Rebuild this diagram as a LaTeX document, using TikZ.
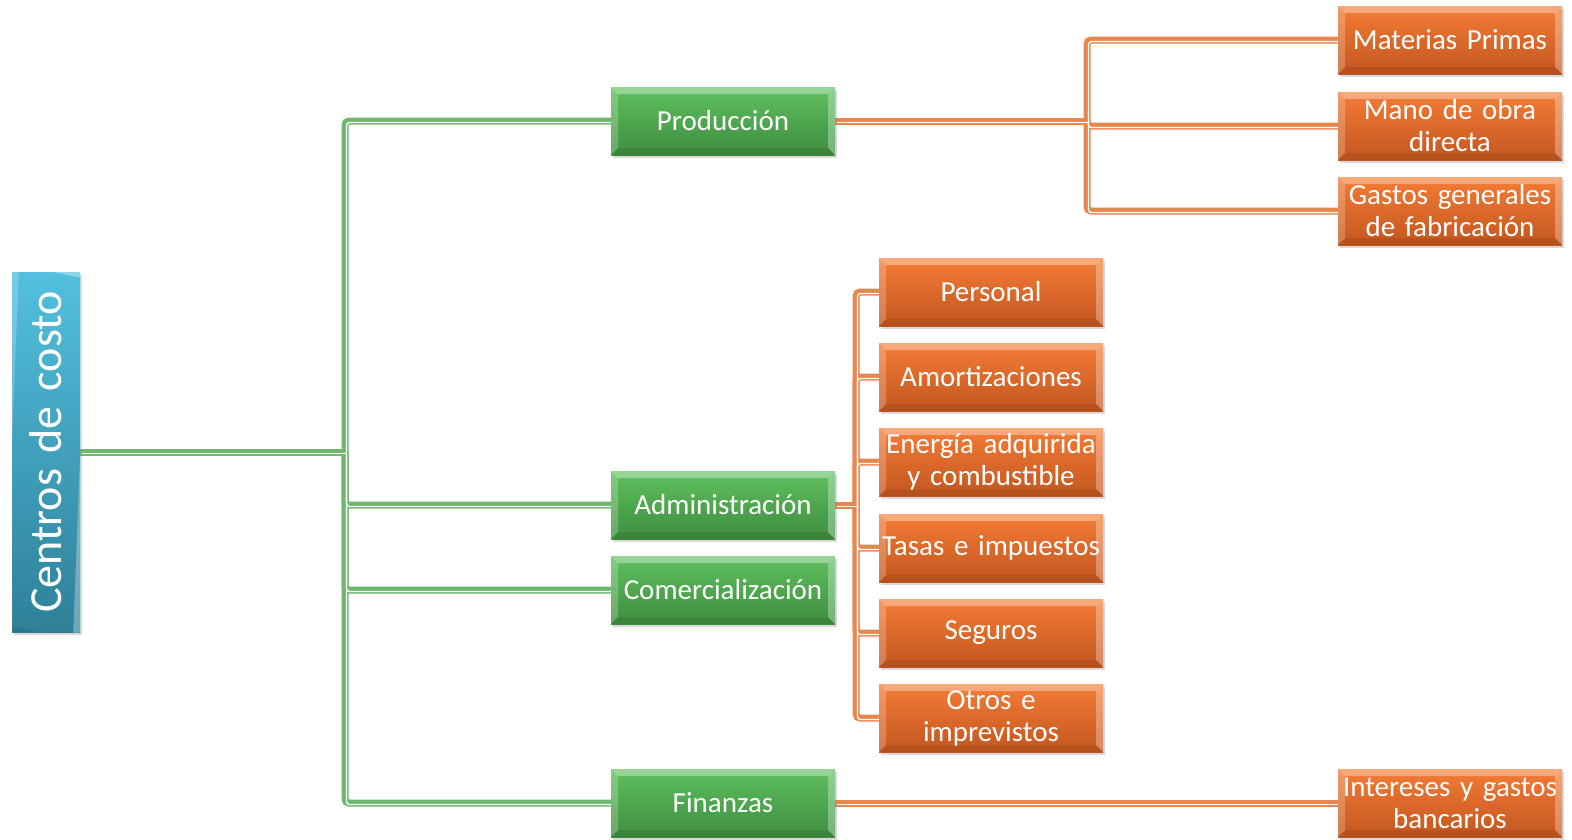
\documentclass[tikz,border=0pt]{standalone}
\usepackage{fontspec}
\setmainfont[WordSpace=0.75]{Carlito}
\usetikzlibrary{shadows,backgrounds}
\definecolor{bluetop}{HTML}{52C0DE}
\definecolor{bluebot}{HTML}{2F8099}
\definecolor{greentop}{HTML}{5EC05E}
\definecolor{greenbot}{HTML}{3F8E3F}
\definecolor{orangetop}{HTML}{F47C36}
\definecolor{orangebot}{HTML}{C3561F}
\definecolor{gconn}{HTML}{6DB86D}
\definecolor{oconn}{HTML}{E8864F}
\tikzset{
  bevel/.style={path picture={
    \fill[white,opacity=0.35] (path picture bounding box.north west) -- (path picture bounding box.north east) -- ([xshift=-7pt,yshift=-7pt]path picture bounding box.north east) -- ([xshift=7pt,yshift=-7pt]path picture bounding box.north west) -- cycle;
    \fill[white,opacity=0.22] (path picture bounding box.north west) -- ([xshift=7pt,yshift=-7pt]path picture bounding box.north west) -- ([xshift=7pt,yshift=7pt]path picture bounding box.south west) -- (path picture bounding box.south west) -- cycle;
    \fill[white,opacity=0.3] (path picture bounding box.north east) -- ([xshift=-7pt,yshift=-7pt]path picture bounding box.north east) -- ([xshift=-7pt,yshift=7pt]path picture bounding box.south east) -- (path picture bounding box.south east) -- cycle;
    \fill[black,opacity=0.08] (path picture bounding box.south west) -- ([xshift=7pt,yshift=7pt]path picture bounding box.south west) -- ([xshift=-7pt,yshift=7pt]path picture bounding box.south east) -- (path picture bounding box.south east) -- cycle;
  }},
  box/.style={minimum width=224pt, minimum height=68pt, inner sep=0pt, text width=222pt, align=center, text=white, font=\fontsize{29}{32}\selectfont, bevel, drop shadow={shadow xshift=1.5pt, shadow yshift=-2.5pt, opacity=0.3}},
  gbox/.style={box, top color=greentop, bottom color=greenbot},
  obox/.style={box, top color=orangetop, bottom color=orangebot},
  rootbox/.style={box, rotate=90, minimum width=360pt, minimum height=68pt, text width=350pt, top color=bluetop, bottom color=bluebot, font=\fontsize{46}{50}\selectfont},
  gline/.style={draw=gconn, line width=7pt, rounded corners=4pt},
  oline/.style={draw=oconn, line width=7pt, rounded corners=4pt},
  wline/.style={draw=white, line width=1.3pt, rounded corners=3pt, transform canvas={shift={(1.5pt,-1.5pt)}}},
}
\begin{document}
\begin{tikzpicture}[x=1pt,y=-1pt]
\useasboundingbox (0,0) rectangle (1572,839);
\node[rootbox] (root) at (46,452) {Centros de costo};
\node[gbox] (prod) at (723,121) {Producción};
\node[gbox] (adm) at (723,505) {Administración};
\node[gbox] (com) at (723,590) {Comercialización};
\node[gbox] (fin) at (723,803) {Finanzas};
\node[obox] (mp) at (1450,40) {Materias Primas};
\node[obox] (mo) at (1450,126) {Mano de obra\\directa};
\node[obox] (gg) at (1450,211) {Gastos generales\\de fabricación};
\node[obox] (pers) at (991,292) {Personal};
\node[obox] (amor) at (991,377) {Amortizaciones};
\node[obox] (ener) at (991,462) {Energía adquirida\\y combustible};
\node[obox] (tasa) at (991,548) {Tasas e impuestos};
\node[obox] (seg) at (991,633) {Seguros};
\node[obox] (otro) at (991,718) {Otros e\\imprevistos};
\node[obox] (int) at (1450,803) {Intereses y gastos\\bancarios};
\coordinate (gj) at (345,452);
\coordinate (pj) at (1087,121);
\coordinate (aj) at (856,505);
\begin{pgfonlayer}{background}
\foreach \s/\t in {gline/gline, wline/gline}{
  \draw[\s] (root.south) -- (gj);
  \draw[\s] (gj) |- (prod.west);
  \draw[\s] (gj) |- (adm.west);
  \draw[\s] (gj) |- (com.west);
  \draw[\s] (gj) |- (fin.west);
}
\foreach \s in {oline, wline}{
  \draw[\s] (prod.east) -- (pj);
  \draw[\s] (pj) |- (mp.west);
  \draw[\s] (pj) |- (mo.west);
  \draw[\s] (pj) |- (gg.west);
  \draw[\s] (adm.east) -- (aj);
  \draw[\s] (aj) |- (pers.west);
  \draw[\s] (aj) |- (amor.west);
  \draw[\s] (aj) |- (ener.west);
  \draw[\s] (aj) |- (tasa.west);
  \draw[\s] (aj) |- (seg.west);
  \draw[\s] (aj) |- (otro.west);
  \draw[\s] (fin.east) -- (int.west);
}
\end{pgfonlayer}
\end{tikzpicture}
\end{document}
